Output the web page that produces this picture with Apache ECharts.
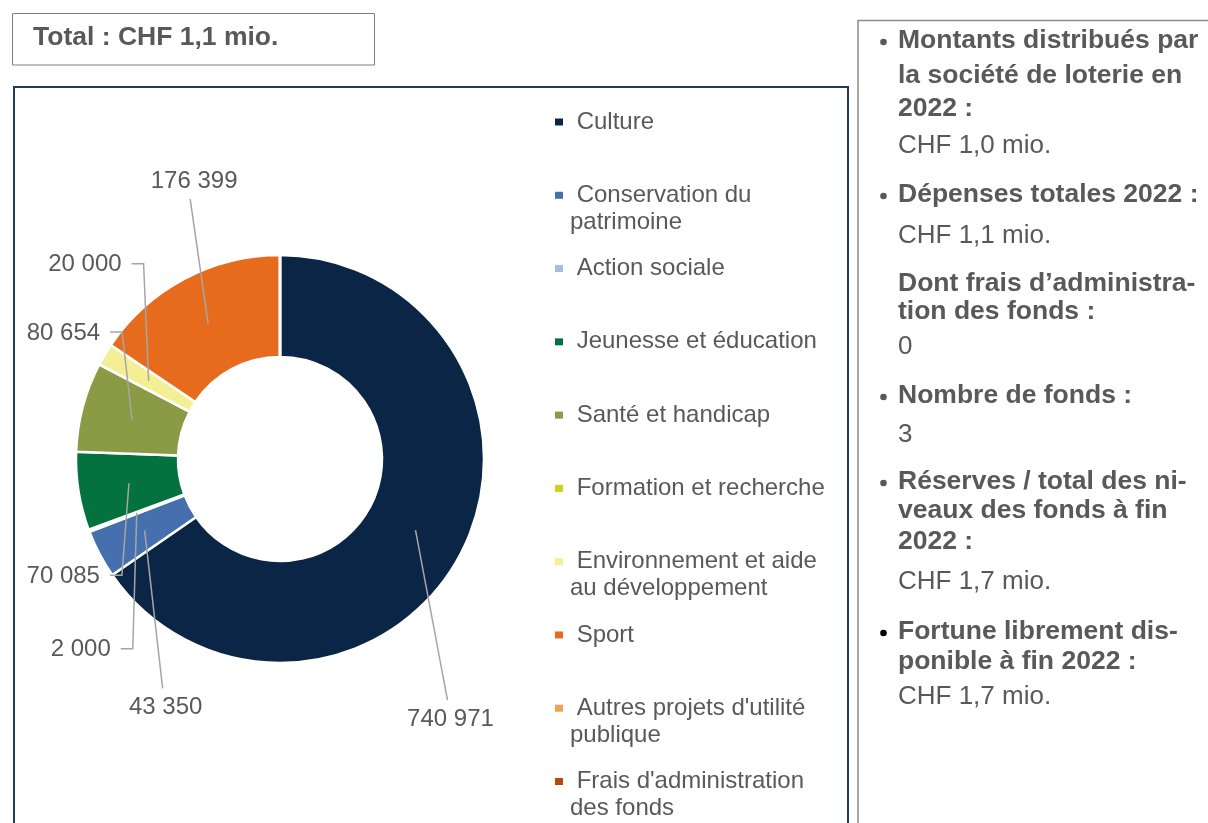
<!DOCTYPE html>
<html>
<head>
<meta charset="utf-8">
<title>Répartition des fonds 2022</title>
<script src="https://cdn.jsdelivr.net/npm/echarts/dist/echarts.min.js"></script>
<style>
    html, body {margin: 0; padding: 0; background: #fff;}
    #main {width: 1208px; height: 823px;}
</style>
</head>
<body>
<div id="main"></div>
<script>
// catégories et montants (CHF) 2022
var categories = ['Culture', 'Conservation du patrimoine', 'Action sociale', 'Jeunesse et éducation',
    'Santé et handicap', 'Formation et recherche', 'Environnement et aide au développement', 'Sport',
    "Autres projets d'utilité publique", "Frais d'administration des fonds"];
var legendLabels = [' Culture', ' Conservation du\npatrimoine', ' Action sociale', ' Jeunesse et éducation',
    ' Santé et handicap', ' Formation et recherche', ' Environnement et aide\nau développement', ' Sport',
    " Autres projets d'utilité\npublique", " Frais d'administration\ndes fonds"];
var amounts = [740971, 43350, 2000, 70085, 80654, 0, 20000, 176399, 0, 0];
var colors = ['#0a2545', '#4670ad', '#aabbe1', '#03723f', '#8a9a45', '#cbd31d', '#f4ef95', '#e76b1d', '#f0a252', '#b24c13'];

var totalText = 'Total : CHF 1,1 mio.';
// encadré de droite : [texte, gras, puce]
var notes = [
    ['Montants distribués par', true, 'grey'],
    ['la société de loterie en', true],
    ['2022 :', true],
    ['CHF 1,0 mio.', false],
    ['Dépenses totales 2022 :', true, 'grey'],
    ['CHF 1,1 mio.', false],
    ['Dont frais d’administra-', true],
    ['tion des fonds :', true],
    ['0', false],
    ['Nombre de fonds :', true, 'grey'],
    ['3', false],
    ['Réserves / total des ni-', true, 'grey'],
    ['veaux des fonds à fin', true],
    ['2022 :', true],
    ['CHF 1,7 mio.', false],
    ['Fortune librement dis-', true, 'black'],
    ['ponible à fin 2022 :', true],
    ['CHF 1,7 mio.', false]
];
var notesY = [41, 76, 109, 146, 195, 236, 284, 312, 347, 396, 435, 482, 511, 542, 582, 632, 662, 697];

var FONT = '"Liberation Sans", Arial, sans-serif';
var TXT = '#595959';

// géométrie de l'anneau
var CX = 280, CY = 459, R_IN = 102, R_OUT = 204;
var R_MID = (R_IN + R_OUT) / 2;

// placement des étiquettes (style Excel), relatif au point d'ancrage dans le secteur
var labelPlacement = [
    {side: 'below', dx: 32, dy: 170},
    {side: 'below', dx: 18, dy: 158},
    {side: 'left', dx: -4, dy: 136},
    {side: 'left', dx: -7, dy: 92},
    {side: 'left', dx: -10, dy: -88},
    null,
    {side: 'left', dx: -5, dy: -117},
    {side: 'above', dx: -18, dy: -125},
    null,
    null
];

function fmt(v) {
    return String(v).replace(/\B(?=(\d{3})+(?!\d))/g, ' ');
}

var total = 0;
for (var i = 0; i < amounts.length; i++) {
    total += amounts[i];
}
var midAngles = [];
var cum = 0;
for (var j = 0; j < amounts.length; j++) {
    midAngles.push((cum + amounts[j] / 2) / total * Math.PI * 2);
    cum += amounts[j];
}

var pieData = [];
var labelData = [];
var legendData = [];
for (var k = 0; k < categories.length; k++) {
    pieData.push({
        name: categories[k],
        value: amounts[k],
        itemStyle: {color: colors[k]}
    });
    labelData.push({
        name: categories[k],
        value: amounts[k],
        label: {show: amounts[k] > 0},
        labelLine: {show: amounts[k] > 0}
    });
    legendData.push({name: categories[k], itemStyle: {color: colors[k], borderWidth: 0}});
}

var graphics = [
    {
        type: 'rect',
        shape: {x: 12.5, y: 13.5, width: 362, height: 51.5},
        style: {fill: '#fff', stroke: '#7f7f7f', lineWidth: 1}
    },
    {
        type: 'text', x: 33, y: 38,
        style: {text: totalText, font: 'bold 26.5px ' + FONT, fill: TXT, verticalAlign: 'middle'}
    },
    {
        type: 'rect',
        shape: {x: 14, y: 87, width: 834, height: 800},
        style: {fill: 'none', stroke: '#1f3a5c', lineWidth: 2}
    },
    {
        type: 'rect',
        shape: {x: 858, y: 20.5, width: 400, height: 900},
        style: {fill: 'none', stroke: '#8c8c8c', lineWidth: 1.5}
    }
];
for (var n = 0; n < notes.length; n++) {
    graphics.push({
        type: 'text', x: 898, y: notesY[n],
        style: {
            text: notes[n][0],
            font: (notes[n][1] ? 'bold 26.5px ' : '26px ') + FONT,
            fill: TXT,
            verticalAlign: 'middle'
        }
    });
    if (notes[n][2]) {
        graphics.push({
            type: 'circle',
            shape: {cx: 883.5, cy: notesY[n] + 1, r: 3.3},
            style: {fill: notes[n][2] === 'black' ? '#000' : TXT}
        });
    }
}

var myChart = echarts.init(document.getElementById('main'));
var option = {
    animation: false,
    backgroundColor: '#fff',
    graphic: graphics,
    legend: {
        orient: 'vertical',
        left: 555,
        top: 81.5,
        padding: 0,
        itemWidth: 8,
        itemHeight: 7,
        itemGap: -7.72,
        icon: 'rect',
        selectedMode: false,
        data: legendData,
        formatter: function (name) {
            // ligne vide au-dessus : le repère reste aligné sur la première ligne
            var txt = legendLabels[categories.indexOf(name)];
            return txt.indexOf('\n') >= 0 ? '\n' + txt : '\n' + txt + '\n';
        },
        textStyle: {
            fontFamily: FONT,
            fontSize: 24,
            color: TXT,
            lineHeight: 27,
            padding: [0, 0, 0, 2]
        }
    },
    series: [{
        type: 'pie',
        z: 2,
        center: [CX, CY],
        radius: [R_IN, R_OUT],
        startAngle: 90,
        clockwise: true,
        silent: true,
        itemStyle: {borderColor: '#fff', borderWidth: 2.5},
        label: {show: false},
        labelLine: {show: false},
        data: pieData
    }, {
        // série transparente par-dessus : étiquettes et traits de rappel au premier plan
        type: 'pie',
        z: 3,
        center: [CX, CY],
        radius: [R_IN, R_OUT],
        startAngle: 90,
        clockwise: true,
        avoidLabelOverlap: false,
        silent: true,
        itemStyle: {color: 'rgba(0,0,0,0)', borderWidth: 0},
        label: {
            position: 'outside',
            fontFamily: FONT,
            fontSize: 24,
            color: TXT,
            formatter: function (p) {
                return fmt(p.value);
            }
        },
        labelLine: {
            show: true,
            smooth: false,
            lineStyle: {color: '#a6a6a6', width: 1.5}
        },
        labelLayout: function (params) {
            var idx = params.dataIndex;
            var pl = labelPlacement[idx];
            if (!pl) {
                return {};
            }
            var a = midAngles[idx];
            var ax = CX + R_MID * Math.sin(a);
            var ay = CY - R_MID * Math.cos(a);
            var ex = ax + pl.dx;
            var ey = ay + pl.dy;
            if (pl.side === 'left') {
                return {
                    x: ex - 22, y: ey + 1, align: 'right', verticalAlign: 'middle',
                    labelLinePoints: [[ax, ay], [ex, ey], [ex - 12, ey]]
                };
            }
            var mid = [(ax + ex) / 2, (ay + ey) / 2];
            if (pl.side === 'below') {
                return {
                    x: ex + 3, y: ey + 19, align: 'center', verticalAlign: 'middle',
                    labelLinePoints: [[ax, ay], mid, [ex, ey]]
                };
            }
            return {
                x: ex + 4, y: ey - 18, align: 'center', verticalAlign: 'middle',
                labelLinePoints: [[ax, ay], mid, [ex, ey]]
            };
        },
        data: labelData
    }]
};
myChart.setOption(option, true);
</script>
</body>
</html>
